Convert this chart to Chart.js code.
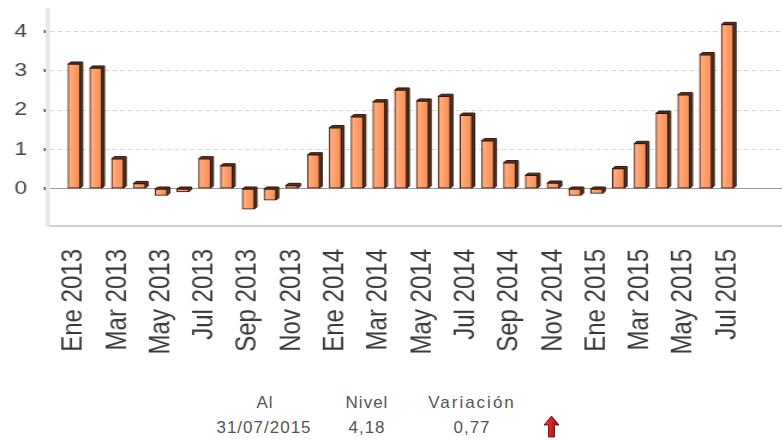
<!DOCTYPE html>
<html>
<head>
<meta charset="utf-8">
<script src="https://cdn.jsdelivr.net/npm/chart.js@4/dist/chart.umd.min.js"></script>
<style>
  html, body { margin: 0; padding: 0; background: #fff; }
  #pagina { position: relative; width: 782px; height: 440px; overflow: hidden; }
  #marco { position: absolute; left: 0; top: 0; width: 652px; height: 360px; transform: scaleX(1.2); transform-origin: 0 0; }
  .pie { position: absolute; width: 130px; margin-left: -65px; text-align: center; font-family: "Liberation Sans", Arial, sans-serif; font-size: 17px; letter-spacing: 1px; color: #555; line-height: 20px; }
</style>
</head>
<body>
<div id="pagina">
  <div id="marco"><canvas id="grafico"></canvas></div>
  <div class="pie" style="left:265px; top:393px">Al</div>
  <div class="pie" style="left:367px; top:393px">Nivel</div>
  <div class="pie" style="left:472px; top:393px; letter-spacing:2px">Variación</div>
  <div class="pie" id="fecha" style="left:264px; top:418px"></div>
  <div class="pie" id="nivel" style="left:367px; top:418px"></div>
  <div class="pie" id="variacion" style="left:472px; top:418px"></div>
  <svg style="position:absolute; left:543px; top:415px" width="17" height="23" viewBox="0 0 17 23">
    <defs>
      <linearGradient id="rojo" x1="0" x2="1" y1="0" y2="0">
        <stop offset="0" stop-color="#f04040"/>
        <stop offset="1" stop-color="#a30000"/>
      </linearGradient>
    </defs>
    <path d="M8.5 1 L16 10 L11.5 10 L11.5 22 L5.5 22 L5.5 10 L1 10 Z" fill="url(#rojo)" stroke="#5a0000" stroke-width="0.8"/>
  </svg>
</div>
<script>
const etiquetas = [
    'Ene 2013', 'Feb 2013', 'Mar 2013', 'Abr 2013', 'May 2013', 'Jun 2013',
    'Jul 2013', 'Ago 2013', 'Sep 2013', 'Oct 2013', 'Nov 2013', 'Dic 2013',
    'Ene 2014', 'Feb 2014', 'Mar 2014', 'Abr 2014', 'May 2014', 'Jun 2014',
    'Jul 2014', 'Ago 2014', 'Sep 2014', 'Oct 2014', 'Nov 2014', 'Dic 2014',
    'Ene 2015', 'Feb 2015', 'Mar 2015', 'Abr 2015', 'May 2015', 'Jun 2015',
    'Jul 2015'
];
const valores = [
    3.17, 3.07, 0.76, 0.13, -0.17, -0.08, 0.76, 0.58, -0.52, -0.29, 0.08, 0.86,
    1.55, 1.83, 2.21, 2.51, 2.23, 2.35, 1.87, 1.22, 0.66, 0.34, 0.14, -0.17,
    -0.12, 0.51, 1.15, 1.92, 2.39, 3.41, 4.18
];
const marcasY = [0, 1, 2, 3, 4];
const fechaCorte = '31/07/2015';

// pie de tabla: nivel y variacion del ultimo mes
const ultimo = valores[valores.length - 1];
const anterior = valores[valores.length - 2];
document.getElementById('fecha').textContent = fechaCorte;
document.getElementById('nivel').textContent = ultimo.toFixed(2).replace('.', ',');
document.getElementById('variacion').textContent = (ultimo - anterior).toFixed(2).replace('.', ',');

// lado y tapa de cada barra para dar efecto 3D, y degradado de la cara
const relieve = {
    id: 'relieve',
    beforeDatasetsDraw(chart) {
        const c = chart.ctx;
        const d = 2.2;
        c.save();
        c.fillStyle = '#5c341e';
        c.strokeStyle = '#2b1509';
        c.lineWidth = 1;
        chart.getDatasetMeta(0).data.forEach(barra => {
            const p = barra.getProps(['x', 'y', 'base', 'width'], true);
            const izq = p.x - p.width / 2;
            const der = p.x + p.width / 2;
            const arriba = Math.min(p.y, p.base);
            const abajo = Math.max(p.y, p.base);
            c.beginPath();
            c.moveTo(izq, arriba);
            c.lineTo(izq + d, arriba - d);
            c.lineTo(der + d, arriba - d);
            c.lineTo(der + d, abajo - d);
            c.lineTo(der, abajo);
            c.lineTo(der, arriba);
            c.closePath();
            c.fill();
            c.stroke();

            const g = c.createLinearGradient(izq, 0, der, 0);
            g.addColorStop(0, '#ffb38a');
            g.addColorStop(1, '#ff884a');
            barra.options.backgroundColor = g;
        });
        c.restore();
    }
};

new Chart(document.getElementById('grafico').getContext('2d'), {
    type: 'bar',
    data: {
        datasets: [{
            data: valores.map((v, i) => ({ x: i, y: v })),
            backgroundColor: () => '#ff9a60',
            borderColor: '#2b1509',
            borderWidth: 1,
            borderSkipped: false,
            barThickness: 10
        }]
    },
    options: {
        animation: false,
        responsive: true,
        maintainAspectRatio: false,
        layout: { padding: { top: 10, right: 0, bottom: 0, left: 0 } },
        plugins: {
            legend: { display: false },
            tooltip: { enabled: false }
        },
        scales: {
            x: {
                type: 'linear',
                min: -1.22,
                max: 32.53,
                offset: false,
                afterBuildTicks: function(eje) {
                    eje.ticks = etiquetas.map((e, i) => ({ value: i })).filter(t => t.value % 2 === 0);
                },
                afterFit: function(eje) {
                    eje.height = 134;
                    eje.paddingLeft = 0;
                    eje.paddingRight = 0;
                },
                grid: { display: false, drawTicks: false },
                border: { color: '#d0d0d0', width: 2 },
                ticks: {
                    autoSkip: false,
                    minRotation: 90,
                    maxRotation: 90,
                    padding: 23,
                    color: '#3a3a3a',
                    font: { family: '"Liberation Sans", Arial, sans-serif', size: 24 },
                    callback: function(value) {
                        return etiquetas[value];
                    }
                }
            },
            y: {
                min: -0.95,
                max: 4.55,
                afterBuildTicks: function(eje) {
                    eje.ticks = marcasY.map(v => ({ value: v }));
                },
                afterFit: function(eje) {
                    eje.width = 39.5;
                    eje.paddingTop = 0;
                    eje.paddingBottom = 0;
                },
                grid: {
                    color: c => (c.tick && c.tick.value === 0) ? '#9a9a9a' : '#d6d6d6',
                    lineWidth: 1,
                    tickLength: 3,
                    tickWidth: 3,
                    tickColor: '#555'
                },
                border: {
                    color: '#e6e6e6',
                    width: 3.5,
                    dash: c => (c.tick && c.tick.value !== 0) ? [4, 2.5] : []
                },
                ticks: {
                    padding: 14,
                    color: '#444',
                    font: { family: '"Liberation Sans", Arial, sans-serif', size: 19 }
                }
            }
        }
    },
    plugins: [relieve]
});
</script>
</body>
</html>
